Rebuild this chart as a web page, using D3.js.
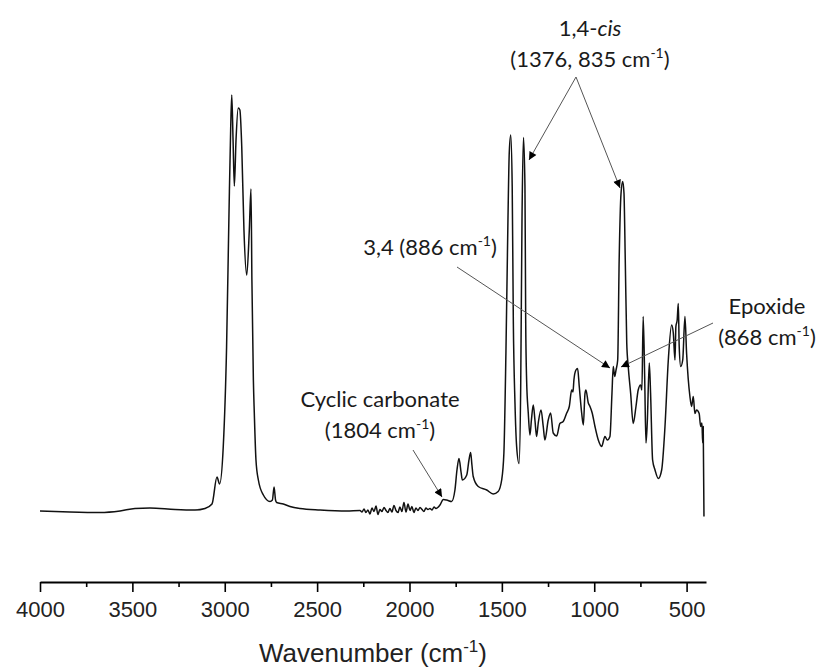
<!DOCTYPE html>
<html>
<head>
<meta charset="utf-8">
<script src="https://cdn.jsdelivr.net/npm/d3@7"></script>
<style>
  body { margin: 0; background: #fff; }
  svg { display: block; }
  .ann { font-family: Lato, "Open Sans", sans-serif; font-size: 22px; fill: #1a1a1a; }
  .tick text { font-family: "Liberation Sans", Arial, sans-serif; }
</style>
</head>
<body>
<svg id="chart"></svg>
<script>
// FTIR spectrum (wavenumber in cm-1, absorbance in a.u.)
const wavenumbers = [
  4000, 3838, 3675, 3567, 3486, 3405, 3269, 3161, 3107, 3069,
  3042, 3028, 3008, 2990, 2977, 2968, 2962, 2955, 2948, 2939,
  2927, 2918, 2908, 2896, 2881, 2867, 2858, 2853, 2845, 2840,
  2831, 2818, 2791, 2755, 2742, 2733, 2725, 2719, 2683, 2647,
  2593, 2484, 2340, 2268,
  2257, 2246, 2236, 2225, 2214, 2203, 2192, 2181, 2171, 2160,
  2149, 2138, 2127, 2117, 2106, 2095, 2084, 2073, 2062, 2052,
  2041, 2030, 2019, 2008, 1997, 1987, 1976, 1965, 1954, 1943,
  1932, 1922, 1911, 1900, 1889, 1878, 1867, 1857,
  1835, 1817, 1799, 1772, 1754, 1743, 1732, 1721, 1714, 1690,
  1678, 1669, 1662, 1655, 1628, 1582, 1547, 1520, 1501, 1489,
  1478, 1467, 1460, 1452, 1444, 1438, 1429, 1420, 1407, 1398,
  1391, 1383, 1375, 1371, 1366, 1357, 1348, 1340, 1330, 1321,
  1312, 1303, 1288, 1276, 1267, 1249, 1236, 1222, 1203, 1186,
  1168, 1149, 1135, 1122, 1115, 1110, 1099, 1090, 1081, 1068,
  1059, 1050, 1045, 1032, 1023, 1011, 996, 978, 960, 942,
  929, 915, 904, 897, 889, 882, 873, 865, 855, 846,
  839, 832, 824, 816, 803, 789, 774, 762, 749, 742,
  735, 727, 720, 713, 702, 695, 684, 671, 653, 635,
  617, 599, 581, 572, 563, 558, 551, 545, 540, 532,
  521, 509, 500, 482, 473, 464, 455, 446, 432, 424,
  417, 413, 410, 406
];
const absorbance = [
  0.142, 0.140, 0.139, 0.142, 0.147, 0.148, 0.145, 0.144, 0.147, 0.156,
  0.210, 0.196, 0.271, 0.471, 0.738, 0.904, 0.974, 0.884, 0.792, 0.884,
  0.948, 0.944, 0.871, 0.704, 0.614, 0.704, 0.786, 0.604, 0.404, 0.338,
  0.244, 0.204, 0.174, 0.161, 0.164, 0.190, 0.164, 0.159, 0.156, 0.151,
  0.147, 0.144, 0.142, 0.143,
  0.140, 0.146, 0.139, 0.144, 0.136, 0.148, 0.141, 0.152, 0.135, 0.145,
  0.141, 0.149, 0.143, 0.139, 0.147, 0.140, 0.153, 0.143, 0.139, 0.150,
  0.141, 0.159, 0.140, 0.156, 0.143, 0.151, 0.139, 0.148, 0.143, 0.149,
  0.145, 0.141, 0.148, 0.145, 0.147, 0.144, 0.150, 0.147,
  0.154, 0.165, 0.164, 0.161, 0.184, 0.224, 0.247, 0.220, 0.204, 0.214,
  0.244, 0.259, 0.234, 0.211, 0.191, 0.184, 0.176, 0.181, 0.204, 0.258,
  0.458, 0.724, 0.858, 0.894, 0.791, 0.524, 0.358, 0.271, 0.237, 0.391,
  0.724, 0.889, 0.791, 0.524, 0.404, 0.338, 0.294, 0.324, 0.354, 0.324,
  0.291, 0.318, 0.344, 0.311, 0.284, 0.324, 0.338, 0.298, 0.292, 0.317,
  0.321, 0.338, 0.351, 0.384, 0.380, 0.404, 0.424, 0.427, 0.391, 0.338,
  0.314, 0.377, 0.384, 0.358, 0.351, 0.338, 0.311, 0.284, 0.271, 0.291,
  0.284, 0.291, 0.377, 0.431, 0.411, 0.424, 0.444, 0.644, 0.777, 0.801,
  0.778, 0.644, 0.478, 0.431, 0.378, 0.317, 0.351, 0.384, 0.394, 0.384,
  0.531, 0.411, 0.278, 0.318, 0.438, 0.378, 0.244, 0.224, 0.207, 0.224,
  0.311, 0.444, 0.514, 0.498, 0.444, 0.511, 0.524, 0.557, 0.471, 0.431,
  0.444, 0.531, 0.457, 0.371, 0.351, 0.371, 0.337, 0.344, 0.337, 0.311,
  0.318, 0.278, 0.311, 0.131
];

const xMajorTicks = [4000, 3500, 3000, 2500, 2000, 1500, 1000, 500];
const xMinorTicks = [3750, 3250, 2750, 2250, 1750, 1250, 750];
const xDomain = [4000, 395];
const yDomain = [0, 1];

const W = 822, H = 671;
const margin = {top: 82, right: 116, bottom: 89, left: 40};

const svg = d3.select("#chart").attr("width", W).attr("height", H);

const x = d3.scaleLinear().domain(xDomain).range([margin.left, W - margin.right]);
const y = d3.scaleLinear().domain(yDomain).range([H - margin.bottom, margin.top]);

const spectrum = wavenumbers.map((w, i) => [w, absorbance[i]]);

svg.append("path")
  .datum(spectrum)
  .attr("fill", "none")
  .attr("stroke", "#111")
  .attr("stroke-width", 1.5)
  .attr("stroke-linejoin", "round")
  .attr("d", d3.line().curve(d3.curveMonotoneX).x(d => x(d[0])).y(d => y(d[1])));

// bottom axis: major ticks with labels, minor ticks without
const axisY = H - margin.bottom;
const gx = svg.append("g").attr("transform", `translate(0,${axisY})`);
gx.call(d3.axisBottom(x).tickValues(xMinorTicks).tickSize(5).tickFormat(""));
gx.call(g => g.select(".domain").remove());
const gxMajor = svg.append("g").attr("transform", `translate(0,${axisY})`)
  .call(d3.axisBottom(x).tickValues(xMajorTicks).tickSize(10).tickSizeOuter(0).tickPadding(9).tickFormat(d3.format("d")));
gxMajor.selectAll("text").attr("font-size", 22).attr("fill", "#222");
svg.selectAll(".domain").attr("stroke-width", 2);
svg.selectAll(".tick line").attr("stroke-width", 1.6);

// axis title
const title = svg.append("text")
  .attr("x", (x.range()[0] + x.range()[1]) / 2)
  .attr("y", 662)
  .attr("text-anchor", "middle")
  .attr("font-family", "'Liberation Sans', Arial, sans-serif")
  .attr("font-size", 26)
  .attr("fill", "#222");
title.append("tspan").text("Wavenumber (cm");
title.append("tspan").attr("font-size", 17).attr("dy", -10).text("-1");
title.append("tspan").attr("dy", 10).text(")");

// arrow marker
svg.append("defs").append("marker")
  .attr("id", "head")
  .attr("viewBox", "0 0 10 10")
  .attr("refX", 10).attr("refY", 5)
  .attr("markerWidth", 9).attr("markerHeight", 8)
  .attr("markerUnits", "userSpaceOnUse")
  .attr("orient", "auto")
  .append("path").attr("d", "M0,0L10,5L0,10Z").attr("fill", "#000");

// annotations (layout in pixels)
const annotations = [
  {lines: [[["1,4-", false], ["cis", true]], [["(1376, 835 cm", false], ["-1", "sup"], [")", false]]],
   cx: 590, y0: 36, arrows: [[576, 77, 529, 160], [576, 77, 620, 188]]},
  {lines: [[["3,4 (886 cm", false], ["-1", "sup"], [")", false]]],
   cx: 430, y0: 255, arrows: [[457, 267, 610, 368]]},
  {lines: [[["Epoxide", false]], [["(868 cm", false], ["-1", "sup"], [")", false]]],
   cx: 767, y0: 314, arrows: [[713, 323, 621, 367]]},
  {lines: [[["Cyclic carbonate", false]], [["(1804 cm", false], ["-1", "sup"], [")", false]]],
   cx: 380, y0: 407, arrows: [[413, 450, 442, 497]]}
];

annotations.forEach(a => {
  a.lines.forEach((parts, li) => {
    const t = svg.append("text").attr("class", "ann")
      .attr("x", a.cx).attr("y", a.y0 + li * 31).attr("text-anchor", "middle");
    let raised = false;
    parts.forEach(([txt, style]) => {
      const s = t.append("tspan").text(txt);
      if (style === true) s.attr("font-style", "italic");
      if (style === "sup") { s.attr("font-size", 14).attr("dy", -9); raised = true; }
      else if (raised) { s.attr("dy", 9); raised = false; }
    });
  });
  a.arrows.forEach(([x1, y1, x2, y2]) => {
    svg.append("line")
      .attr("x1", x1).attr("y1", y1).attr("x2", x2).attr("y2", y2)
      .attr("stroke", "#555").attr("stroke-width", 1)
      .attr("marker-end", "url(#head)");
  });
});
</script>
</body>
</html>
